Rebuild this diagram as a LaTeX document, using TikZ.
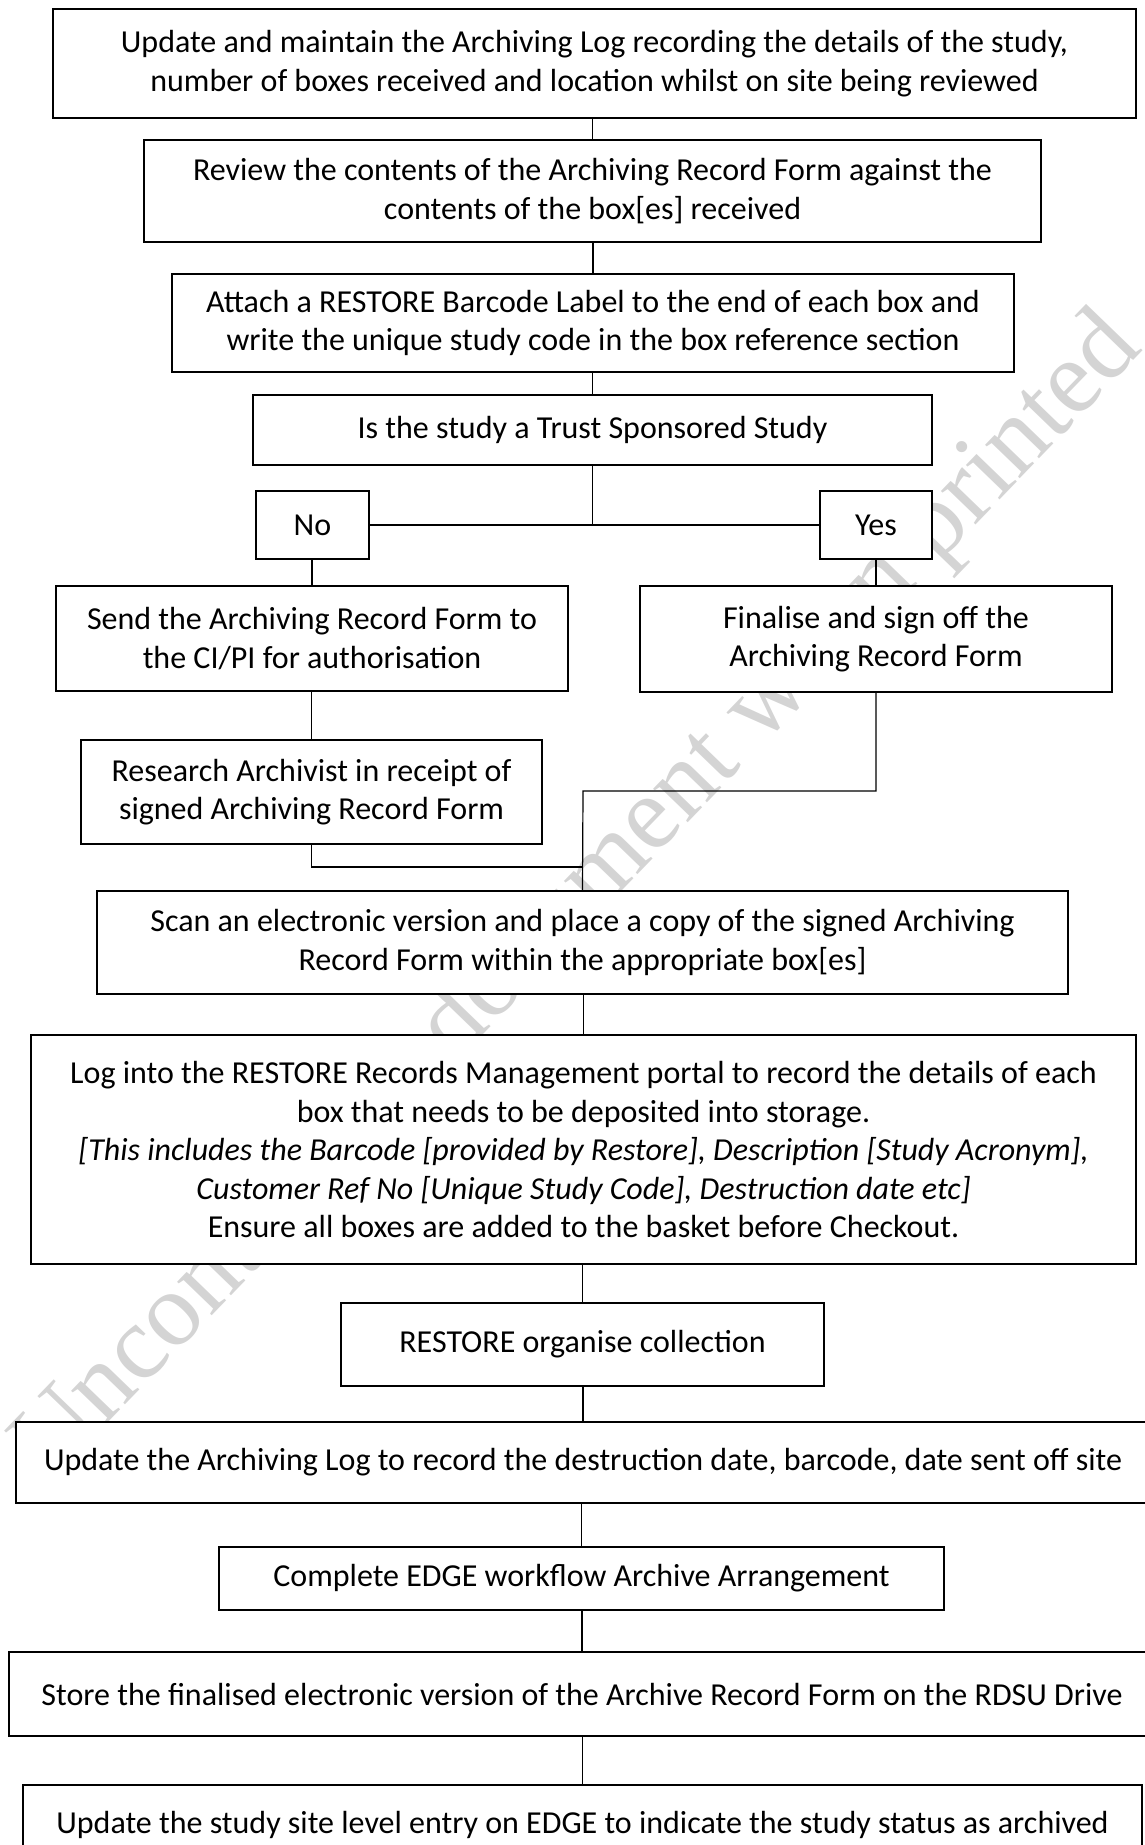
\documentclass[tikz,border=0pt]{standalone}
\usepackage{fontspec}
\setmainfont{Carlito}
\newfontfamily\markfont{Liberation Serif}

\tikzset{
	procbox/.style={draw, fill=white, line width=1.8pt, align=center, inner sep=0pt, outer sep=0pt, font=\fontsize{32}{38.5}\selectfont},
	answer/.style={procbox, line width=1.3pt},
	link/.style={line width=1.2pt},
}

\begin{document}
\begin{tikzpicture}[x=1pt, y=-1pt]
	\useasboundingbox (0,0) rectangle (1145,1845);
	
	\node[rotate=46, text=black!17, font=\markfont\fontsize{105}{105}\selectfont] (mark) at (580,898) {Uncontrolled document when printed};
	
	\node[procbox, minimum width=1083pt, minimum height=109pt] (top) at (594.5,63.5) {Update and maintain the Archiving Log recording the details of the study,\\number of boxes received and location whilst on site being reviewed};
	\node[procbox, minimum width=897pt, minimum height=102pt] (review) at (592.5,191) {Review the contents of the Archiving Record Form against the\\contents of the box[es] received};
	\node[procbox, minimum width=842pt, minimum height=98pt] (attach) at (593,323) {Attach a RESTORE Barcode Label to the end of each box and\\write the unique study code in the box reference section};
	\node[procbox, minimum width=679pt, minimum height=70pt] (trust) at (592.5,430) {Is the study a Trust Sponsored Study};
	
	\node[answer, minimum width=113pt, minimum height=68pt] (no) at (312.5,525) {No};
	\node[answer, minimum width=112pt, minimum height=68pt] (yes) at (876,525) {Yes};
	
	\node[procbox, minimum width=512pt, minimum height=105pt] (send) at (312,638.5) {Send the Archiving Record Form to\\the CI/PI for authorisation};
	\node[procbox, minimum width=472pt, minimum height=106pt] (finalise) at (876,639) {Finalise and sign off the\\Archiving Record Form};
	\node[procbox, minimum width=461pt, minimum height=104pt] (receipt) at (311.5,792) {Research Archivist in receipt of\\signed Archiving Record Form};
	
	\node[procbox, minimum width=971pt, minimum height=103pt] (scan) at (582.5,942.5) {Scan an electronic version and place a copy of the signed Archiving\\Record Form within the appropriate box[es]};
	\node[procbox, minimum width=1105pt, minimum height=229pt] (portal) at (583.5,1149.5) {Log into the RESTORE Records Management portal to record the details of each\\box that needs to be deposited into storage.\\\textit{[This includes the Barcode [provided by Restore], Description [Study Acronym],}\\\textit{Customer Ref No [Unique Study Code], Destruction date etc]}\\Ensure all boxes are added to the basket before Checkout.};
	\node[procbox, minimum width=483pt, minimum height=83pt] (collect) at (582.5,1344.5) {RESTORE organise collection};
	\node[procbox, minimum width=1134pt, minimum height=81pt] (logdate) at (583,1462.5) {Update the Archiving Log to record the destruction date, barcode, date sent off site};
	\node[procbox, minimum width=725pt, minimum height=63pt] (edge) at (581.5,1578.5) {Complete EDGE workflow Archive Arrangement};
	\node[procbox, minimum width=1146pt, minimum height=84pt] (store) at (582,1694) {Store the finalised electronic version of the Archive Record Form on the RDSU Drive};
	\node[procbox, minimum width=1119pt, minimum height=80pt] (status) at (582.5,1825) {Update the study site level entry on EDGE to indicate the study status as archived};
	
	\coordinate (joinA) at (583,791);
	\coordinate (joinB) at (583,867);
	
	\foreach \a/\b in {top/review, review/attach, attach/trust, no/send, yes/finalise, send/receipt, scan/portal, portal/collect, collect/logdate, logdate/edge, edge/store, store/status} {
		\draw[link]	(\b.north) -- (\b.north |- \a.south);
	}
	\draw[link]	(no.east) -- (yes.west);
	\draw[link]	(trust.south) -- (trust.south |- no.east);
	\draw[link]	(finalise.south) |- (joinA) -- (scan.north);
	\draw[link]	(receipt.south) |- (joinB);
	
\end{tikzpicture}
\end{document}
